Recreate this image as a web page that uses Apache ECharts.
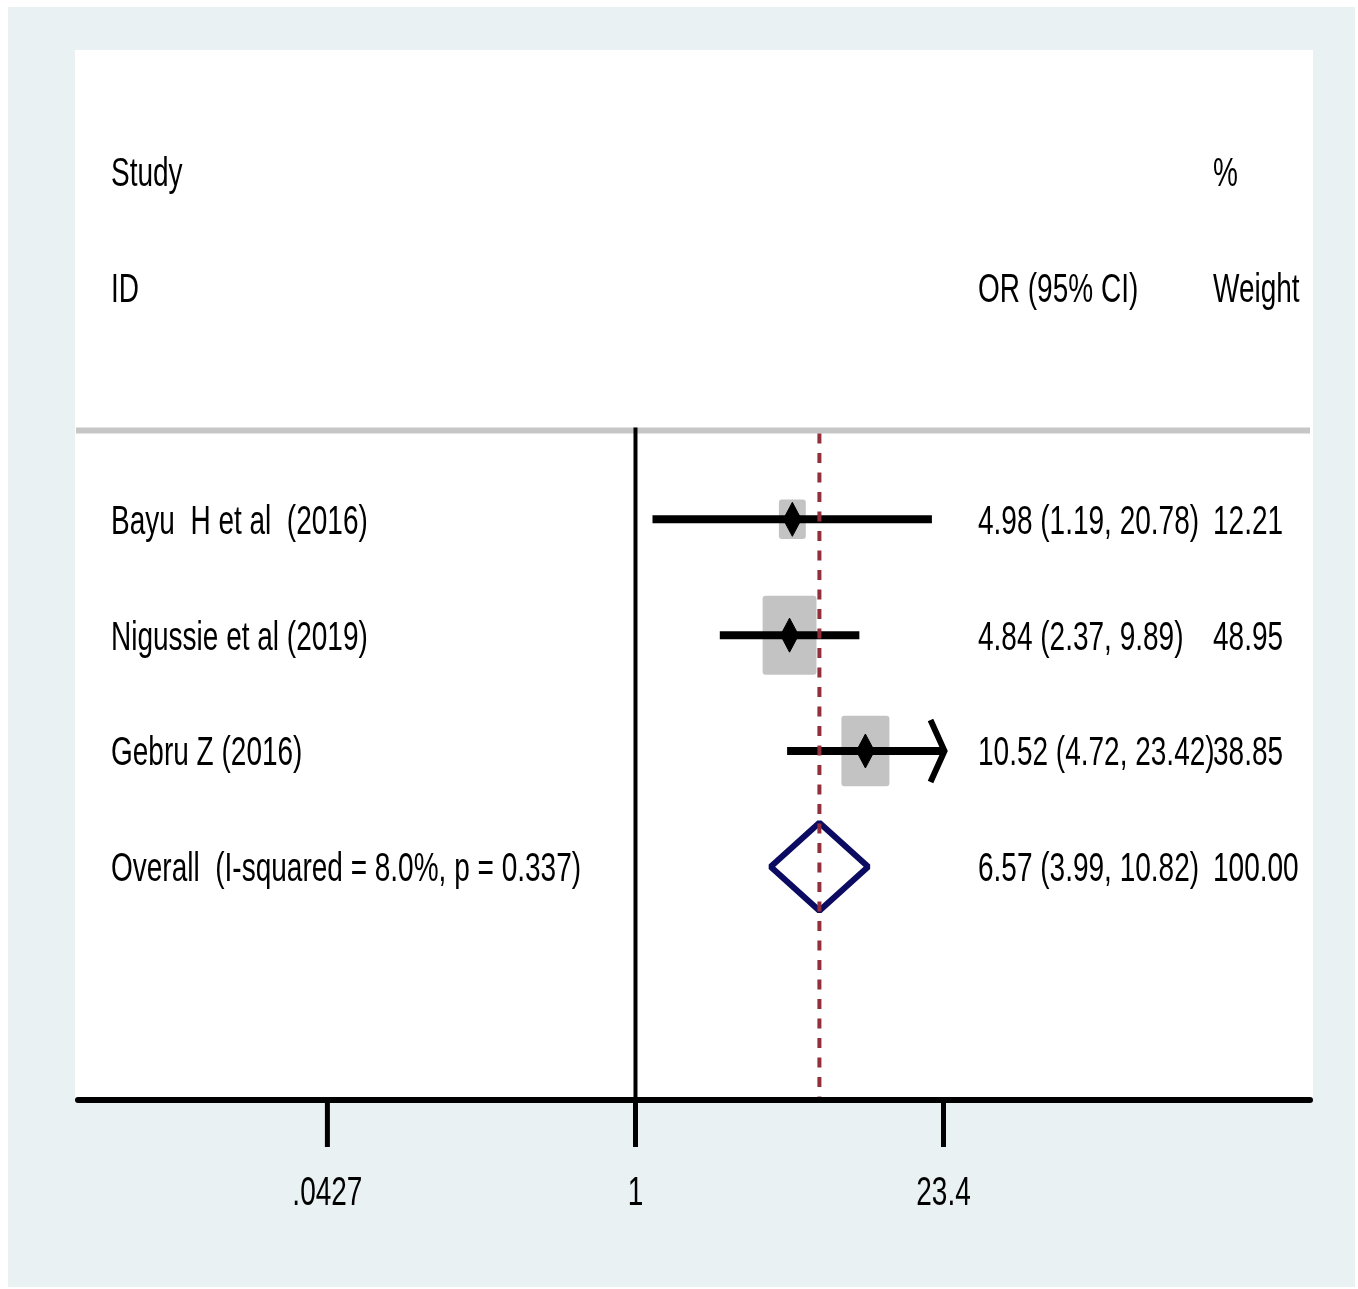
<!DOCTYPE html>
<html>
<head>
<meta charset="utf-8">
<script src="https://cdn.jsdelivr.net/npm/echarts@6/dist/echarts.min.js"></script>
<style>
html,body{margin:0;padding:0;background:#ffffff;}
#chart{width:1358px;height:1289px;}
</style>
</head>
<body>
<div id="chart"></div>
<script>
// ---------------- data ----------------
const studies = ['Bayu  H et al  (2016)', 'Nigussie et al (2019)', 'Gebru Z (2016)'];
const oddsRatio = [4.98, 4.84, 10.52];
const ciLow = [1.19, 2.37, 4.72];
const ciHigh = [20.78, 9.89, 23.42];
const weights = [12.21, 48.95, 38.85];

const overallLabel = 'Overall  (I-squared = 8.0%, p = 0.337)';
const overallOR = [6.57];
const overallLow = [3.99];
const overallHigh = [10.82];
const overallWeight = [100.00];

const tickValues = [0.0427, 1, 23.4];
const tickLabels = ['.0427', '1', '23.4'];
const nullValue = 1;

const headerLeft = ['Study', 'ID'];
const headerCI = ['', 'OR (95% CI)'];
const headerWeight = ['%', 'Weight'];

// ---------------- layout / style ----------------
const FONT = '"Liberation Sans", Arial, Helvetica, sans-serif';
const SY = 1.48;
const COL_ID = 111, COL_CI = 978, COL_W = 1213;
const Y_MIN = -3, Y_MAX = 6.013, SEP_ROW = 0.233;
const TEXT_DY = 3;

function fmt(v) { return v.toFixed(2); }
function txt(str, x, y, align) {
  return {
    type: 'text', x: x, y: y + TEXT_DY, scaleY: SY, silent: true,
    style: {
      text: str, x: 0, y: 0, fill: '#000', fontSize: 28, fontFamily: FONT,
      align: align || 'left', verticalAlign: 'middle',
      textAlign: align || 'left', textVerticalAlign: 'middle'
    }
  };
}

const chart = echarts.init(document.getElementById('chart'), null, { renderer: 'canvas' });

const option = {
  backgroundColor: '#ffffff',
  animation: false,
  graphic: [
    { type: 'rect', z: -2, silent: true, shape: { x: 8, y: 7, width: 1347, height: 1280 }, style: { fill: '#e9f1f3' } },
    { type: 'rect', z: -1, silent: true, shape: { x: 75, y: 50, width: 1238, height: 1050 }, style: { fill: '#ffffff' } }
  ],
  grid: { left: 78, right: 48, top: 56, bottom: 189, containLabel: false },
  xAxis: {
    type: 'log', logBase: Math.E, min: 0.003325, max: 996.3, z: 6, position: 'bottom',
    axisLine: { show: true, onZero: false, lineStyle: { color: '#000', width: 6 } },
    axisTick: { show: false }, axisLabel: { show: false }, splitLine: { show: false }
  },
  yAxis: { type: 'value', inverse: true, min: Y_MIN, max: Y_MAX, show: false, splitLine: { show: false } },
  series: [
    // frame: headers, separator, null line
    {
      type: 'custom', z: 2, clip: false, silent: true,
      data: [[nullValue, 0]],
      encode: { x: 0, y: 1 },
      renderItem: function (params, api) {
        const cs = params.coordSys;
        const sepY = api.coord([nullValue, SEP_ROW])[1];
        const botY = api.coord([nullValue, Y_MAX])[1];
        const nx = api.coord([api.value(0), 0])[0];
        const children = [
          { type: 'line', shape: { x1: cs.x - 2, y1: sepY, x2: cs.x + cs.width, y2: sepY }, style: { stroke: '#c6c6c6', lineWidth: 6 } },
          { type: 'line', shape: { x1: nx, y1: sepY - 3, x2: nx, y2: botY }, style: { stroke: '#000', lineWidth: 4 } }
        ];
        for (let i = 0; i < headerLeft.length; i++) {
          const y = api.coord([nullValue, -2 + i])[1];
          if (headerLeft[i]) children.push(txt(headerLeft[i], COL_ID, y));
          if (headerCI[i]) children.push(txt(headerCI[i], COL_CI, y));
          if (headerWeight[i]) children.push(txt(headerWeight[i], COL_W, y));
        }
        return { type: 'group', children: children };
      }
    },
    // studies
    {
      type: 'custom', z: 3, clip: false, silent: true,
      data: studies.map((s, i) => [oddsRatio[i], ciLow[i], ciHigh[i], weights[i], i + 1]),
      encode: { x: [0, 1, 2], y: 4 },
      renderItem: function (params, api) {
        const i = params.dataIndex;
        const or = api.value(0), lo = api.value(1), hi = api.value(2), w = api.value(3), row = api.value(4);
        const xMin = tickValues[0], xMax = tickValues[tickValues.length - 1];
        const c = api.coord([or, row]);
        const pl = api.coord([Math.max(lo, xMin), row]);
        const ph = api.coord([Math.min(hi, xMax), row]);
        const bw = 7.7 * Math.sqrt(w), bh = 11.3 * Math.sqrt(w);
        const children = [
          { type: 'rect', shape: { x: c[0] - bw / 2, y: c[1] - bh / 2, width: bw, height: bh, r: 3 }, style: { fill: '#c3c3c3' } },
          { type: 'line', shape: { x1: pl[0], y1: c[1], x2: ph[0], y2: c[1] }, style: { stroke: '#000', lineWidth: 8 } },
          { type: 'polygon', shape: { points: [[c[0] - 9, c[1]], [c[0], c[1] - 17], [c[0] + 9, c[1]], [c[0], c[1] + 17]] }, style: { fill: '#000', stroke: '#000', lineWidth: 1, lineJoin: 'round' } }
        ];
        if (hi > xMax) {
          children.push({ type: 'polyline', shape: { points: [[ph[0] - 13, c[1] - 31], [ph[0] + 1, c[1]], [ph[0] - 13, c[1] + 31]] }, style: { stroke: '#000', lineWidth: 6, fill: null } });
        }
        children.push(txt(studies[i], COL_ID, c[1]));
        children.push(txt(fmt(or) + ' (' + fmt(lo) + ', ' + fmt(hi) + ')', COL_CI, c[1]));
        children.push(txt(fmt(w), COL_W, c[1]));
        return { type: 'group', children: children };
      }
    },
    // overall diamond
    {
      type: 'custom', z: 4, clip: false, silent: true,
      data: [[overallOR[0], overallLow[0], overallHigh[0], overallWeight[0], studies.length + 1]],
      encode: { x: [0, 1, 2], y: 4 },
      renderItem: function (params, api) {
        const or = api.value(0), lo = api.value(1), hi = api.value(2), w = api.value(3), row = api.value(4);
        const c = api.coord([or, row]);
        const pl = api.coord([lo, row]);
        const ph = api.coord([hi, row]);
        const h = 44;
        return {
          type: 'group', children: [
            { type: 'polygon', shape: { points: [[pl[0], c[1]], [c[0], c[1] - h], [ph[0], c[1]], [c[0], c[1] + h]] }, style: { fill: null, stroke: '#0b0b62', lineWidth: 6, lineJoin: 'bevel' } },
            txt(overallLabel, COL_ID, c[1]),
            txt(fmt(or) + ' (' + fmt(lo) + ', ' + fmt(hi) + ')', COL_CI, c[1]),
            txt(fmt(w), COL_W, c[1])
          ]
        };
      }
    },
    // overall dashed line
    {
      type: 'custom', z: 5, clip: false, silent: true,
      data: [[overallOR[0], 0]],
      encode: { x: 0, y: 1 },
      renderItem: function (params, api) {
        const x = api.coord([api.value(0), 0])[0];
        const y1 = api.coord([api.value(0), SEP_ROW])[1] + 3;
        const y2 = api.coord([api.value(0), Y_MAX])[1] - 3;
        return { type: 'line', shape: { x1: x, y1: y1, x2: x, y2: y2 }, style: { stroke: '#922f3b', lineWidth: 4, lineDash: [10, 9.5] } };
      }
    },
    // x ticks & labels
    {
      type: 'custom', z: 6, clip: false, silent: true,
      data: tickValues.map((v, i) => [v, i]),
      encode: { x: 0 },
      renderItem: function (params, api) {
        const i = params.dataIndex;
        const p = api.coord([api.value(0), Y_MAX]);
        return {
          type: 'group', children: [
            { type: 'line', shape: { x1: p[0], y1: p[1], x2: p[0], y2: p[1] + 47 }, style: { stroke: '#000', lineWidth: 5 } },
            txt(tickLabels[i], p[0], p[1] + 91, 'center')
          ]
        };
      }
    }
  ]
};
chart.setOption(option);
</script>
</body>
</html>
